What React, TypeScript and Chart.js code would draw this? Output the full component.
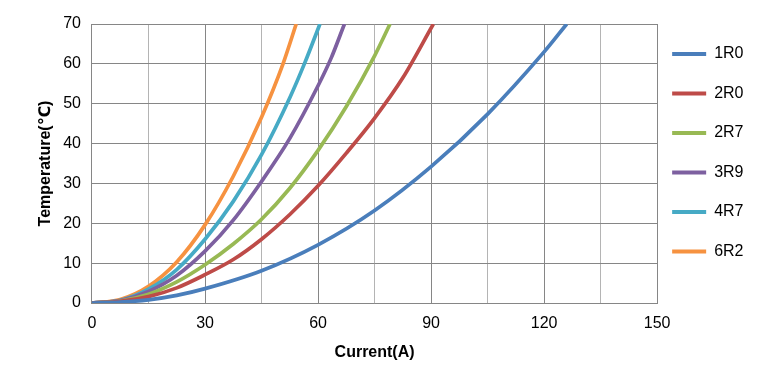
import React, { useEffect, useRef } from 'react';
import { Chart, registerables } from 'chart.js';

Chart.register(...registerables);

const FONT = "Arial, 'Liberation Sans', 'DejaVu Sans', sans-serif";

const SERIES_NAMES = ['1R0', '2R0', '2R7', '3R9', '4R7', '6R2'];
const SERIES_COLORS = ['#4A7EBB', '#BE4B48', '#98B954', '#7D60A0', '#46AAC5', '#F69240'];

const X_TICKS_LABELED = [0, 30, 60, 90, 120, 150];
const Y_TICKS = [0, 10, 20, 30, 40, 50, 60, 70];

const CURRENT_1R0 = [0, 7.5, 15, 22.5, 30, 45, 60, 75, 90, 105, 120, 126];
const TEMP_1R0 = [0, 0.2, 0.8, 1.9, 3.6, 8.1, 14.6, 23.2, 34.2, 47.4, 63, 70];

const CURRENT_2R0 = [0, 7.5, 15, 22.5, 30, 37.5, 45, 52.5, 60, 67.5, 75, 82.5, 90.6];
const TEMP_2R0 = [0, 0.4, 1.6, 3.8, 7.1, 10.9, 16, 22.2, 29.4, 37.6, 46.4, 56.5, 70];

const CURRENT_2R7 = [0, 7.5, 15, 22.5, 30, 37.5, 45, 52.5, 60, 67.5, 75, 79.1];
const TEMP_2R7 = [0, 0.5, 2.2, 5.3, 9.6, 14.8, 21, 28.8, 38.3, 49.3, 62, 70];

const CURRENT_3R9 = [0, 7.5, 15, 22.5, 30, 37.5, 45, 52.5, 60, 63.5, 67];
const TEMP_3R9 = [0, 0.6, 2.9, 6.9, 13, 20.8, 30.5, 41.3, 54.5, 61.5, 70];

const CURRENT_4R7 = [0, 7.5, 15, 22.5, 30, 37.5, 45, 52.5, 56.5, 60.5];
const TEMP_4R7 = [0, 0.7, 3.5, 8.4, 16, 25.5, 37.2, 51.5, 60.3, 70];

const CURRENT_6R2 = [0, 7.5, 15, 22.5, 30, 37.5, 45, 50.7, 54.2];
const TEMP_6R2 = [0, 0.9, 4.2, 10.3, 19.6, 31.8, 46.6, 60, 70];

const CURRENTS = [CURRENT_1R0, CURRENT_2R0, CURRENT_2R7, CURRENT_3R9, CURRENT_4R7, CURRENT_6R2];
const TEMPS = [TEMP_1R0, TEMP_2R0, TEMP_2R7, TEMP_3R9, TEMP_4R7, TEMP_6R2];

const X_TITLE = 'Current(A)';
const Y_TITLE = 'Temperature(℃)';

export default function App() {
  const canvasRef = useRef<HTMLCanvasElement | null>(null);

  useEffect(() => {
    if (!canvasRef.current) return;
    const datasets = SERIES_NAMES.map((name, i) => ({
      label: name,
      data: CURRENTS[i].map((x, j) => ({ x, y: TEMPS[i][j] })),
      borderColor: SERIES_COLORS[i],
      backgroundColor: SERIES_COLORS[i],
      borderWidth: 3.7,
      pointRadius: 0,
      fill: false,
      cubicInterpolationMode: 'monotone' as const,
    }));

    const chart = new Chart(canvasRef.current, {
      type: 'line',
      data: { datasets },
      options: {
        animation: false,
        responsive: false,
        layout: { padding: { top: 24, left: 36.4, right: 20.5, bottom: 19.4 } },
        plugins: {
          tooltip: { enabled: false },
          legend: {
            position: 'right',
            align: 'start',
            fullSize: false,
            title: { display: true, text: ' ', padding: 0, font: { size: 1, lineHeight: '7px' } },
            labels: {
              boxWidth: 34,
              boxHeight: 4,
              padding: 15,
              color: '#000',
              font: { size: 16, family: FONT, lineHeight: '24.5px' },
              generateLabels: (c: any) =>
                c.data.datasets.map((ds: any, i: number) => ({
                  text: [ds.label],
                  fillStyle: ds.borderColor,
                  strokeStyle: ds.borderColor,
                  lineWidth: 0,
                  hidden: false,
                  datasetIndex: i,
                  fontColor: '#000',
                })),
            },
          },
        },
        scales: {
          x: {
            type: 'linear',
            min: 0,
            max: 150,
            ticks: {
              stepSize: 15,
              autoSkip: false,
              maxRotation: 0,
              padding: 11.4,
              color: '#000',
              font: { size: 16, family: FONT },
              callback: (v: any) => (X_TICKS_LABELED.includes(Number(v)) ? String(v) : ''),
            },
            grid: {
              drawTicks: false,
              lineWidth: 1,
              color: (ctx: any) =>
                ctx.tick && X_TICKS_LABELED.includes(ctx.tick.value) ? '#868686' : '#b4b4b4',
            },
            border: { color: '#868686', width: 1 },
            title: {
              display: true,
              text: X_TITLE,
              color: '#000',
              font: { size: 16, weight: 'bold', family: FONT },
              padding: { top: -1.6, bottom: 0 },
            },
          },
          y: {
            type: 'linear',
            min: Y_TICKS[0],
            max: Y_TICKS[Y_TICKS.length - 1],
            ticks: {
              stepSize: 10,
              padding: 11,
              color: '#000',
              font: { size: 16, family: FONT },
            },
            grid: { drawTicks: false, color: '#868686', lineWidth: 1 },
            border: { color: '#868686', width: 1 },
            title: {
              display: true,
              text: Y_TITLE,
              color: '#000',
              font: { size: 16, weight: 'bold', family: FONT },
              padding: { top: 0, bottom: -3.4 },
            },
          },
        },
      },
    });
    return () => chart.destroy();
  }, []);

  return (
    <div style={{ position: 'fixed', left: 0, top: 0, width: 774, height: 382, background: '#fff' }}>
      <canvas ref={canvasRef} width={774} height={382} />
    </div>
  );
}
